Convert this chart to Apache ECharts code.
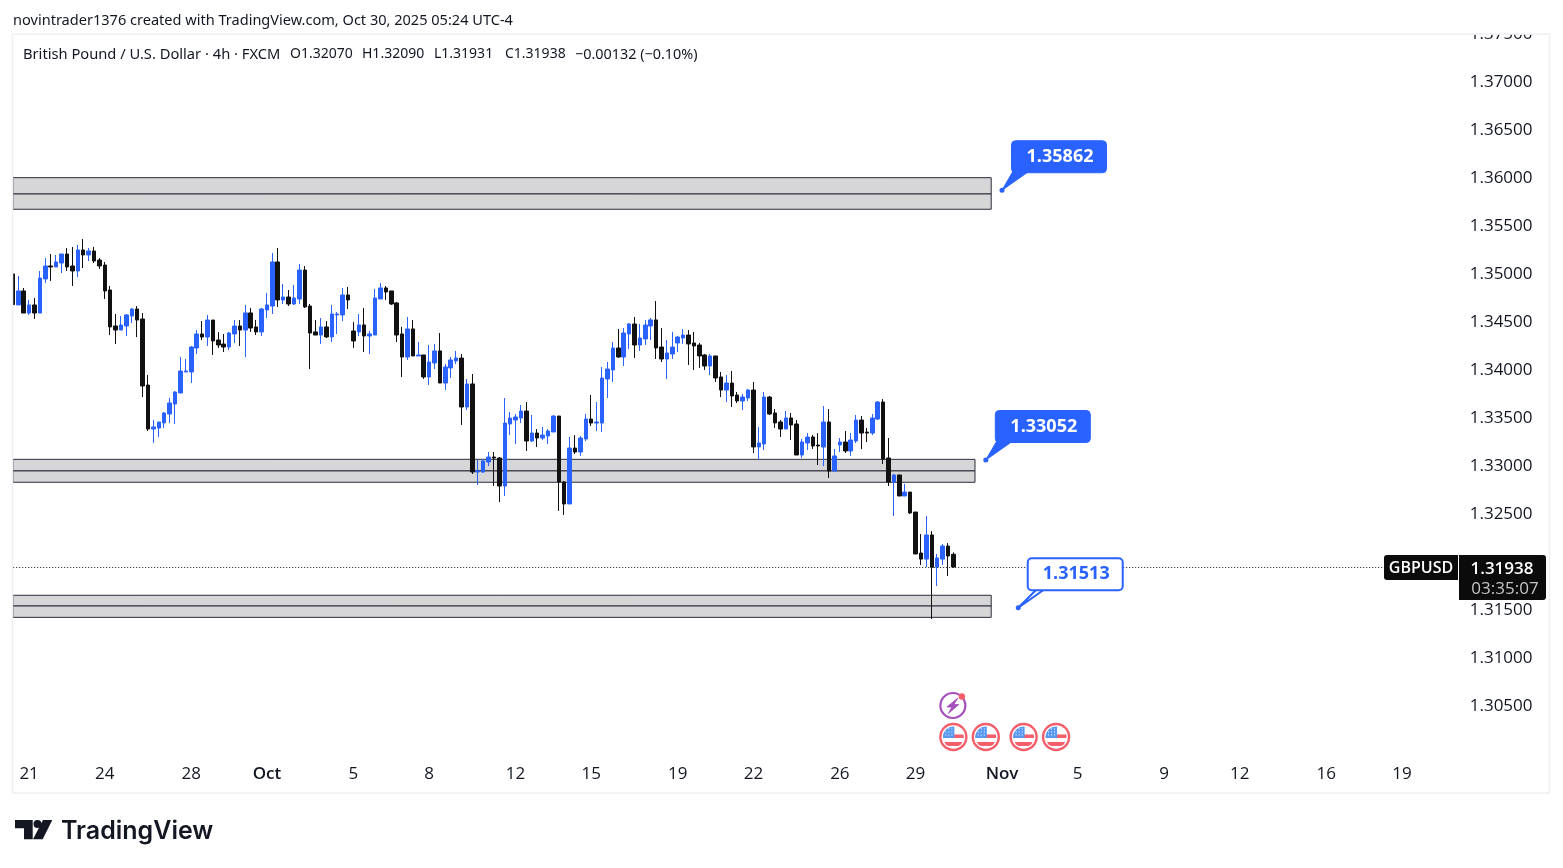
<!DOCTYPE html>
<html>
<head>
<meta charset="utf-8">
<title>GBPUSD</title>
<script src="https://cdn.jsdelivr.net/npm/echarts@6/dist/echarts.min.js"></script>
<style>
  html, body { margin: 0; padding: 0; background: #fff; }
  #chart { width: 1563px; height: 868px; }
</style>
</head>
<body>
<div id="chart"></div>
<script>
var opens = [
  1.34990,1.34667,1.34813,1.34583,1.34667,1.34583,1.34938,1.35073,1.35063,1.35104,
  1.35198,1.35073,1.35021,1.35240,1.35188,1.35229,1.35135,1.35083,1.34823,1.34448,
  1.34406,1.34448,1.34552,1.34625,1.34521,1.33833,1.33375,1.33385,1.33438,1.33531,
  1.33635,1.33750,1.33969,1.33969,1.34219,1.34365,1.34333,1.34510,1.34302,1.34260,
  1.34229,1.34365,1.34448,1.34406,1.34584,1.34438,1.34386,1.34615,1.34656,1.35115,
  1.34719,1.34750,1.34677,1.34729,1.35031,1.34656,1.34386,1.34354,1.34438,1.34334,
  1.34563,1.34563,1.34771,1.34396,1.34386,1.34459,1.34344,1.34354,1.34729,1.34844,
  1.34813,1.34688,1.34365,1.34125,1.34417,1.34136,1.34146,1.33917,1.34063,1.34188,
  1.33854,1.34011,1.34084,1.34114,1.33604,1.33844,1.32927,1.32927,1.33031,1.33083,
  1.33073,1.32781,1.33427,1.33469,1.33489,1.33562,1.33250,1.33333,1.33281,1.33302,
  1.33344,1.33510,1.32823,1.32594,1.33177,1.33135,1.33271,1.33479,1.33437,1.33437,
  1.33896,1.33990,1.34219,1.34125,1.34365,1.34469,1.34250,1.34313,1.34448,1.34511,
  1.34229,1.34104,1.34156,1.34271,1.34323,1.34354,1.34271,1.34250,1.34146,1.34031,
  1.34136,1.33917,1.33781,1.33854,1.33729,1.33667,1.33698,1.33781,1.33188,1.33219,
  1.33708,1.33542,1.33448,1.33375,1.33490,1.33427,1.33104,1.33229,1.33292,1.33208,
  1.33187,1.33448,1.32937,1.33208,1.33239,1.33146,1.33250,1.33468,1.33343,1.33333,
  1.33479,1.33656,1.33073,1.32823,1.32896,1.32677,1.32718,1.32510,1.32083,1.32020,
  1.32271,1.31937,1.32020,1.32156,1.32070
];
var highs = [
  1.34990,1.34969,1.34844,1.34719,1.34740,1.35021,1.35156,1.35198,1.35188,1.35198,
  1.35260,1.35271,1.35292,1.35354,1.35260,1.35271,1.35156,1.35115,1.34865,1.34573,
  1.34552,1.34573,1.34635,1.34656,1.34583,1.33938,1.33469,1.33448,1.33552,1.33698,
  1.33771,1.34125,1.34104,1.34240,1.34406,1.34500,1.34563,1.34510,1.34385,1.34365,
  1.34385,1.34510,1.34510,1.34667,1.34636,1.34511,1.34636,1.34792,1.35209,1.35261,
  1.34886,1.34823,1.34875,1.35094,1.35073,1.34677,1.34511,1.34531,1.34500,1.34667,
  1.34594,1.34844,1.34854,1.34490,1.34573,1.34636,1.34396,1.34834,1.34896,1.34865,
  1.34813,1.34698,1.34438,1.34542,1.34511,1.34281,1.34146,1.34250,1.34261,1.34375,
  1.34052,1.34125,1.34188,1.34156,1.33896,1.33948,1.33052,1.33062,1.33135,1.33135,
  1.33083,1.33698,1.33552,1.33531,1.33625,1.33656,1.33521,1.33375,1.33396,1.33375,
  1.33521,1.33510,1.32833,1.33292,1.33312,1.33302,1.33531,1.33729,1.33656,1.34021,
  1.34073,1.34281,1.34417,1.34427,1.34479,1.34542,1.34469,1.34511,1.34531,1.34708,
  1.34427,1.34302,1.34386,1.34344,1.34417,1.34406,1.34386,1.34271,1.34156,1.34156,
  1.34136,1.33969,1.33938,1.33979,1.33761,1.33740,1.33792,1.33865,1.33396,1.33761,
  1.33719,1.33583,1.33469,1.33563,1.33542,1.33469,1.33271,1.33333,1.33313,1.33333,
  1.33614,1.33583,1.33166,1.33281,1.33354,1.33333,1.33521,1.33510,1.33385,1.33531,
  1.33666,1.33687,1.33281,1.32906,1.32896,1.32802,1.32718,1.32510,1.32281,1.32468,
  1.32312,1.32073,1.32177,1.32187,1.32090
];
var lows = [
  1.34670,1.34667,1.34583,1.34563,1.34521,1.34583,1.34896,1.34917,1.35063,1.35000,
  1.35021,1.34865,1.34958,1.35052,1.35125,1.35104,1.35042,1.34729,1.34354,1.34260,
  1.34406,1.34344,1.34479,1.34333,1.33708,1.33354,1.33229,1.33292,1.33385,1.33438,
  1.33427,1.33750,1.33969,1.33854,1.34156,1.34302,1.34240,1.34146,1.34219,1.34177,
  1.34198,1.34271,1.34240,1.34125,1.34386,1.34354,1.34344,1.34531,1.34573,1.34646,
  1.34677,1.34656,1.34667,1.34677,1.34636,1.34000,1.34354,1.34261,1.34323,1.34281,
  1.34365,1.34500,1.34625,1.34219,1.34344,1.34177,1.34156,1.34354,1.34729,1.34719,
  1.34667,1.34281,1.33917,1.34094,1.34136,1.34136,1.33896,1.33833,1.34000,1.33854,
  1.33781,1.33906,1.34052,1.33417,1.33573,1.32906,1.32792,1.32917,1.32989,1.32781,
  1.32614,1.32677,1.33312,1.33219,1.33437,1.33146,1.33239,1.33187,1.33260,1.33219,
  1.33344,1.32521,1.32479,1.32594,1.33114,1.33094,1.33250,1.33406,1.33354,1.33344,
  1.33698,1.33865,1.34115,1.34031,1.34208,1.34115,1.34188,1.34250,1.34302,1.34104,
  1.34073,1.33896,1.34104,1.34177,1.34261,1.34042,1.33990,1.34011,1.33990,1.33938,
  1.33865,1.33708,1.33656,1.33604,1.33646,1.33573,1.33667,1.33125,1.33052,1.33156,
  1.33521,1.33386,1.33292,1.33375,1.33261,1.33104,1.33073,1.33156,1.33167,1.33000,
  1.32989,1.32864,1.32937,1.33135,1.33125,1.33094,1.33229,1.33166,1.33239,1.33312,
  1.33468,1.33010,1.32781,1.32468,1.32677,1.32677,1.32489,1.32073,1.31958,1.31937,
  1.31395,1.31739,1.31958,1.31843,1.31931
];
var closes = [
  1.34670,1.34813,1.34583,1.34667,1.34583,1.34948,1.35073,1.35063,1.35115,1.35198,
  1.35063,1.35021,1.35240,1.35188,1.35229,1.35125,1.35073,1.34813,1.34438,1.34406,
  1.34458,1.34563,1.34625,1.34510,1.33823,1.33375,1.33396,1.33448,1.33542,1.33646,
  1.33760,1.33979,1.33979,1.34229,1.34365,1.34333,1.34510,1.34292,1.34250,1.34229,
  1.34375,1.34448,1.34406,1.34584,1.34427,1.34386,1.34625,1.34667,1.35115,1.34719,
  1.34750,1.34677,1.34740,1.35031,1.34646,1.34375,1.34354,1.34438,1.34334,1.34573,
  1.34573,1.34771,1.34719,1.34292,1.34459,1.34344,1.34365,1.34740,1.34844,1.34802,
  1.34677,1.34354,1.34125,1.34417,1.34136,1.34146,1.33917,1.34073,1.34188,1.33854,
  1.34021,1.34094,1.34115,1.33604,1.33844,1.32927,1.32937,1.33042,1.33083,1.33073,
  1.32781,1.33437,1.33489,1.33500,1.33562,1.33250,1.33333,1.33281,1.33312,1.33354,
  1.33510,1.32823,1.32594,1.33177,1.33135,1.33281,1.33479,1.33437,1.33448,1.33906,
  1.34000,1.34219,1.34125,1.34375,1.34469,1.34250,1.34323,1.34458,1.34511,1.34219,
  1.34104,1.34167,1.34229,1.34333,1.34354,1.34261,1.34240,1.34136,1.34031,1.34136,
  1.33906,1.33781,1.33854,1.33719,1.33667,1.33708,1.33781,1.33188,1.33229,1.33708,
  1.33531,1.33438,1.33375,1.33490,1.33417,1.33104,1.33240,1.33291,1.33198,1.33198,
  1.33448,1.32937,1.33094,1.33239,1.33146,1.33260,1.33468,1.33333,1.33333,1.33489,
  1.33656,1.33062,1.32823,1.32896,1.32677,1.32718,1.32500,1.32073,1.32020,1.32271,
  1.31934,1.32031,1.32156,1.32052,1.31938
];

var barCount = 268;
var tickIndexes = [3, 17, 33, 47, 63, 77, 93, 107, 123, 137, 153, 167, 183, 197, 213, 227, 243, 257];
var tickLabels = ['21', '24', '28', 'Oct', '5', '8', '12', '15', '19', '22', '26', '29', 'Nov', '5', '9', '12', '16', '19'];

// grey zones: top edge, middle line, bottom edge, last bar
var zoneTops = [1.35993, 1.33059, 1.31643];
var zoneMids = [1.35823, 1.32938, 1.31531];
var zoneBottoms = [1.35664, 1.32820, 1.31413];
var zoneEnds = [181, 178, 181];

var calloutBars = [183, 180, 186];
var calloutPrices = [1.35862, 1.33052, 1.31513];

var lastClose = 1.31938;

var flagBars = [174, 180, 187, 193];
var flagPrices = [1.30167, 1.30167, 1.30167, 1.30167];
var boltBars = [174];
var boltPrices = [1.305];

var BLUE = '#2962FF';
var BLACK = '#111111';
var TEXT = '#131722';

function svgUri(svg) {
  return 'image://data:image/svg+xml;charset=utf-8,' + encodeURIComponent(svg);
}

var flagIcon = svgUri(
  '<svg xmlns="http://www.w3.org/2000/svg" width="60" height="60" viewBox="0 0 30 30">' +
  '<defs><clipPath id="c"><circle cx="15" cy="15" r="10.5"/></clipPath></defs>' +
  '<circle cx="15" cy="15" r="13" fill="#fff" stroke="#f23645" stroke-width="2.4"/>' +
  '<g clip-path="url(#c)"><rect x="4" y="4" width="22" height="22" fill="#fff"/>' +
  '<rect x="4" y="12.5" width="22" height="3.5" fill="#f23645"/>' +
  '<rect x="4" y="20" width="22" height="4" fill="#f23645"/>' +
  '<rect x="4" y="4" width="12" height="12" fill="#2f80ed"/>' +
  '<path d="M7 7h1M10 7h1M13 7h1M7 10h1M10 10h1M13 10h1M7 13h1M10 13h1M13 13h1" stroke="#fff" stroke-width="1"/>' +
  '</g></svg>'
);
var boltIcon = svgUri(
  '<svg xmlns="http://www.w3.org/2000/svg" width="64" height="64" viewBox="0 0 32 32">' +
  '<circle cx="15.5" cy="16.5" r="12.5" fill="#fff" stroke="#8e24aa" stroke-width="2.2"/>' +
  '<path d="M20.5 9 L9.5 18 L14.5 18 L11 24.5 L21.5 15.5 L16.5 15.5 Z" fill="#8e24aa" stroke="#8e24aa" stroke-width="0.8"/>' +
  '<circle cx="24.5" cy="7.5" r="3.2" fill="#f23645"/>' +
  '</svg>'
);

var categories = [];
for (var i = 0; i < barCount; i++) {
  categories.push(String(i));
}

var candles = [];
for (var k = 0; k < opens.length; k++) {
  candles.push([opens[k], closes[k], lows[k], highs[k]]);
}

var zoneAreas = [];
zoneTops.forEach(function (top, z) {
  zoneAreas.push([{ xAxis: 0, yAxis: top }, { xAxis: zoneEnds[z], yAxis: zoneMids[z] }]);
  zoneAreas.push([{ xAxis: 0, yAxis: zoneMids[z] }, { xAxis: zoneEnds[z], yAxis: zoneBottoms[z] }]);
});

function renderCallout(params, api) {
  var p = api.coord([api.value(0), api.value(1)]);
  var filled = params.dataIndex < 2;
  var boxStyle = {
    fill: filled ? BLUE : '#fff',
    stroke: BLUE,
    lineWidth: filled ? 1 : 2
  };
  return {
    type: 'group',
    children: [
      {
        type: 'polygon',
        shape: { points: [[p[0], p[1]], [p[0] + (filled ? 11 : 19), p[1] - 19], [p[0] + 27, p[1] - 19]] },
        style: boxStyle
      },
      {
        type: 'rect',
        shape: { x: p[0] + 9.5, y: p[1] - 49.5, width: 95, height: 32, r: 4 },
        style: boxStyle
      },
      {
        type: 'circle',
        shape: { cx: p[0], cy: p[1], r: 2.5 },
        style: { fill: BLUE }
      },
      {
        type: 'text',
        style: {
          x: p[0] + 58,
          y: p[1] - 33.5,
          text: calloutPrices[params.dataIndex].toFixed(5),
          fill: filled ? '#fff' : BLUE,
          font: '700 18px "Open Sans"',
          align: 'center',
          verticalAlign: 'middle'
        }
      }
    ]
  };
}

function headerText(text, x, y, size) {
  return {
    type: 'text', z: 92, x: x, y: y,
    style: { text: text, font: size + 'px "Noto Sans"', fill: TEXT, verticalAlign: 'middle' }
  };
}

var chart = echarts.init(document.getElementById('chart'));
chart.setOption({
  animation: false,
  backgroundColor: '#fff',
  grid: { left: 10.2, top: 33, width: 268 * 5.405, height: 720 },
  xAxis: {
    type: 'category',
    data: categories,
    boundaryGap: true,
    axisLine: { show: false },
    axisTick: { show: false },
    splitLine: { show: false },
    axisLabel: {
      margin: 13,
      color: TEXT,
      fontFamily: 'Open Sans',
      fontSize: 17,
      hideOverlap: false,
      interval: function (index) {
        return tickIndexes.indexOf(index) >= 0;
      },
      formatter: function (value, index) {
        var label = tickLabels[tickIndexes.indexOf(index)];
        return /[a-z]/i.test(label) ? '{m|' + label + '}' : label;
      },
      rich: { m: { fontFamily: 'Open Sans', fontSize: 17, fontWeight: 600, color: TEXT } }
    }
  },
  yAxis: {
    type: 'value',
    position: 'right',
    min: 1.3,
    max: 1.375,
    interval: 0.005,
    scale: true,
    axisLine: { show: false },
    axisTick: { show: false },
    splitLine: { show: false },
    axisLabel: {
      margin: 11,
      formatter: function (value) {
        return value < 1.304 ? '' : '{v|' + value.toFixed(5) + '}';
      },
      rich: {
        // top padding pushes the digits about 1.5px down from the tick
        v: { fontFamily: 'Open Sans', fontSize: 17, color: TEXT, padding: [3, 0, 0, 0] }
      }
    }
  },
  series: [
    {
      type: 'candlestick',
      data: candles,
      barWidth: 4,
      clip: true,
      z: 3,
      itemStyle: {
        color: BLUE,
        color0: BLACK,
        borderColor: BLUE,
        borderColor0: BLACK,
        borderWidth: 1
      },
      markArea: {
        silent: true,
        itemStyle: { color: '#d6d6d8', borderColor: '#2a2e39', borderWidth: 1 },
        data: zoneAreas
      },
      markLine: {
        silent: true,
        precision: 5,
        symbol: 'none',
        label: { show: false },
        lineStyle: { color: TEXT, type: [1, 2], width: 1 },
        data: [{ yAxis: lastClose }]
      }
    },
    {
      type: 'custom',
      renderItem: renderCallout,
      clip: false,
      z: 5,
      silent: true,
      encode: { x: 0, y: 1 },
      data: calloutBars.map(function (bar, n) { return [bar, calloutPrices[n]]; })
    },
    {
      type: 'scatter',
      symbol: flagIcon,
      symbolSize: 30,
      silent: true,
      z: 5,
      data: flagBars.map(function (bar, n) { return [bar, flagPrices[n]]; })
    },
    {
      type: 'scatter',
      symbol: boltIcon,
      symbolSize: 32,
      silent: true,
      z: 5,
      data: boltBars.map(function (bar, n) { return [bar, boltPrices[n]]; })
    }
  ],
  graphic: {
    elements: [
      // page margin left of the pane and above the price scale
      { type: 'rect', z: 90, shape: { x: 0, y: 30, width: 12.5, height: 770 }, style: { fill: '#fff' } },
      { type: 'rect', z: 90, shape: { x: 1400, y: 22, width: 150, height: 12.5 }, style: { fill: '#fff' } },
      {
        type: 'rect', z: 91,
        shape: { x: 12.5, y: 34, width: 1537, height: 759 },
        style: { fill: 'none', stroke: '#eff0f3', lineWidth: 1.5 }
      },
      headerText('novintrader1376 created with TradingView.com, Oct 30, 2025 05:24 UTC-4', 13, 20.5, 14.55),
      headerText('British Pound / U.S. Dollar · 4h · FXCM', 23, 54.5, 14.7),
      headerText('O1.32070', 290, 54.5, 14),
      headerText('H1.32090', 362, 54.5, 14),
      headerText('L1.31931', 434, 54.5, 14),
      headerText('C1.31938', 505, 54.5, 14),
      headerText('−0.00132 (−0.10%)', 575, 54.5, 14.4),
      // last price badges
      { type: 'rect', z: 92, shape: { x: 1384, y: 555, width: 74, height: 25, r: [3, 0, 0, 3] }, style: { fill: '#0b0b0b' } },
      { type: 'rect', z: 92, shape: { x: 1459, y: 555, width: 87, height: 45, r: [0, 3, 3, 0] }, style: { fill: '#0b0b0b' } },
      {
        type: 'text', z: 93, x: 1421, y: 568.5,
        style: { text: 'GBPUSD', font: '600 16px "Open Sans"', fill: '#fff', align: 'center', verticalAlign: 'middle' }
      },
      {
        type: 'text', z: 93, x: 1502, y: 569,
        style: { text: '1.31938', font: '600 17px "Open Sans"', fill: '#fff', align: 'center', verticalAlign: 'middle' }
      },
      {
        type: 'text', z: 93, x: 1505, y: 589,
        style: { text: '03:35:07', font: '17px "Open Sans"', fill: '#c4c4c4', align: 'center', verticalAlign: 'middle' }
      },
      // logo
      {
        type: 'polygon', z: 92,
        shape: { points: [[15, 820], [32.7, 820], [32.7, 839.3], [24, 839.3], [24, 828.3], [15, 828.3]] },
        style: { fill: '#131722' }
      },
      { type: 'circle', z: 92, shape: { cx: 37.5, cy: 824, r: 4 }, style: { fill: '#131722' } },
      {
        type: 'polygon', z: 92,
        shape: { points: [[52.3, 820], [42.7, 839.3], [33, 839.3], [43, 820]] },
        style: { fill: '#131722' }
      },
      {
        type: 'text', z: 92, x: 61, y: 831,
        style: { text: 'TradingView', font: '600 25px Inter', fill: '#131722', verticalAlign: 'middle' }
      }
    ]
  }
});
</script>
</body>
</html>
